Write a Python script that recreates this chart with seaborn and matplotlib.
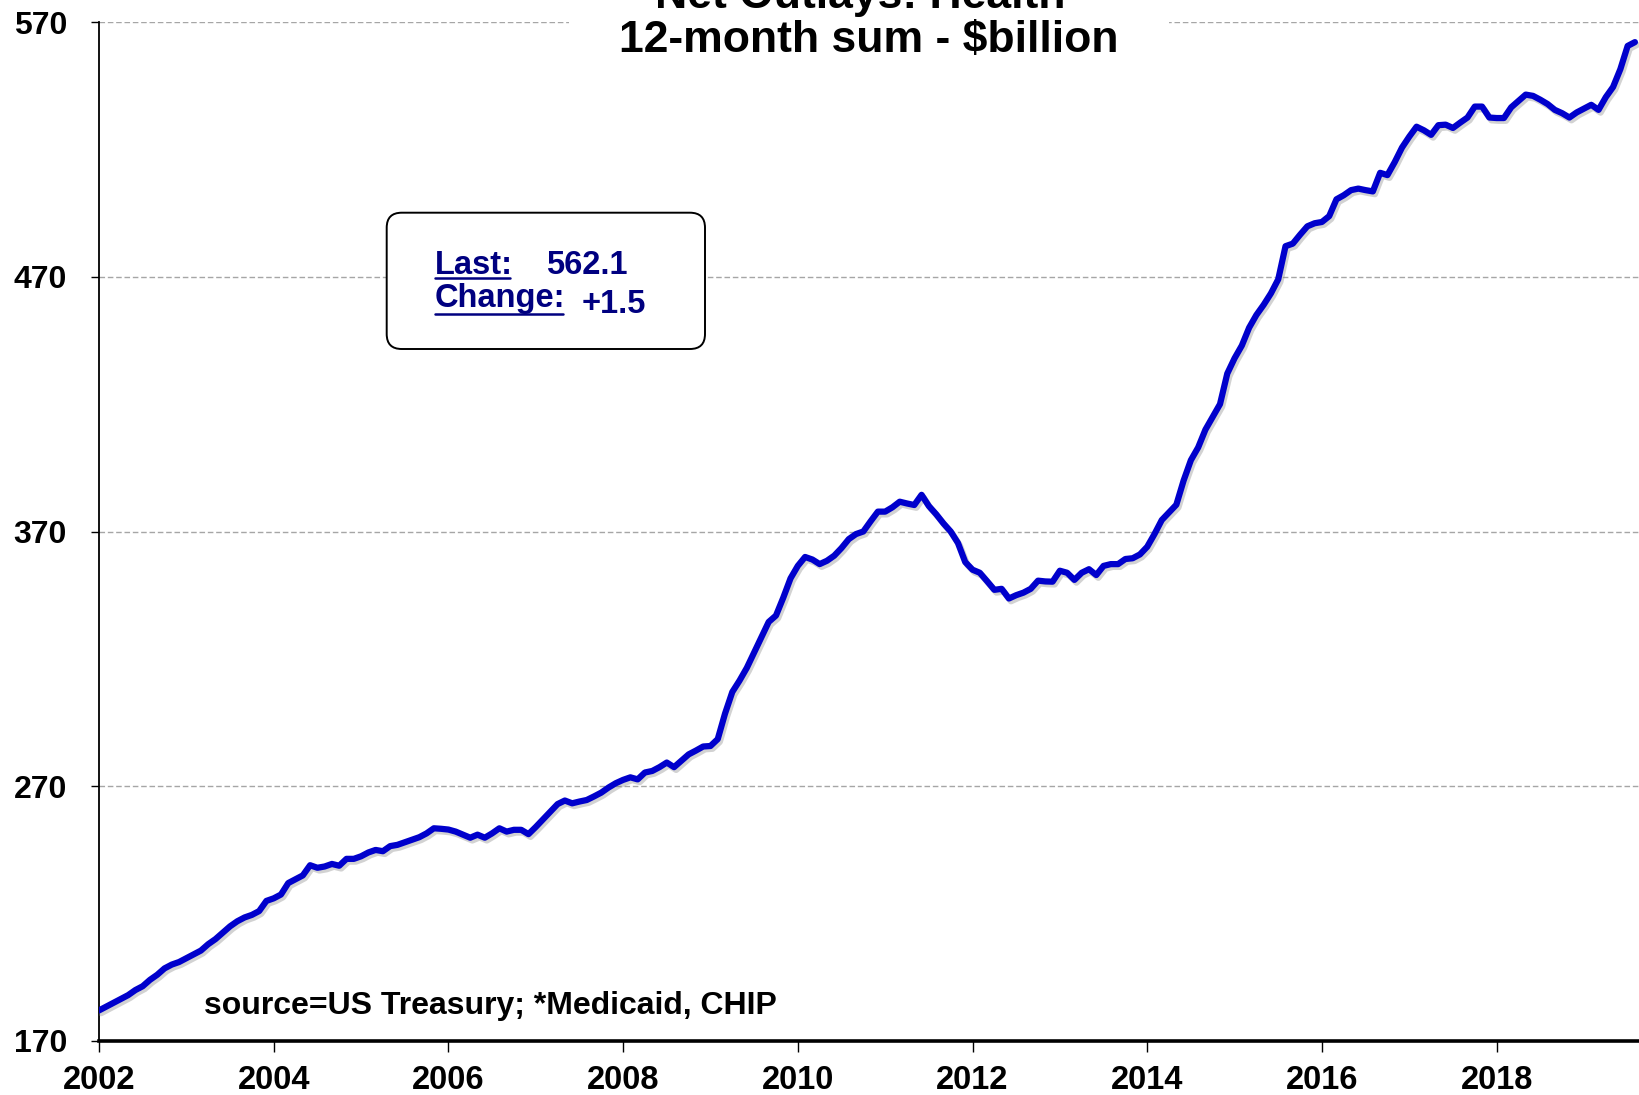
import numpy as np
import pandas as pd
import matplotlib
matplotlib.use("Agg")
import matplotlib.pyplot as plt
import seaborn as sns
import matplotlib.patheffects as pe
from matplotlib.patches import FancyBboxPatch
from matplotlib.lines import Line2D
from matplotlib.transforms import IdentityTransform

# ---------------- data (monthly, Jan 2002 - Aug 2019) ----------------
start_year = 2002
values_2002 = [182.0, 183.5, 185.0, 186.5, 188.0, 190.0, 191.5, 194.0, 196.0, 198.5, 200.0, 201.0]
values_2003 = [202.5, 204.0, 205.5, 208.0, 210.0, 212.5, 215.0, 217.0, 218.5, 219.5, 221.0, 225.0]
values_2004 = [226.0, 227.5, 232.0, 233.5, 235.0, 239.0, 238.0, 238.5, 239.5, 238.8, 241.5, 241.5]
values_2005 = [242.5, 244.0, 245.0, 244.5, 246.5, 247.0, 248.0, 249.0, 250.0, 251.5, 253.5, 253.3]
values_2006 = [253.0, 252.2, 251.0, 249.8, 251.0, 249.8, 251.5, 253.5, 252.2, 252.9, 252.9, 251.2]
values_2007 = [254.0, 257.0, 260.0, 263.0, 264.4, 263.3, 264.0, 264.6, 266.0, 267.5, 269.5, 271.2]
values_2008 = [272.5, 273.5, 272.7, 275.4, 276.0, 277.5, 279.3, 277.5, 280.0, 282.5, 284.0, 285.6]
values_2009 = [285.8, 288.5, 298.5, 307.0, 311.5, 316.5, 322.5, 328.5, 334.5, 337.0, 344.0, 351.6]
values_2010 = [356.5, 360.0, 359.0, 357.2, 358.5, 360.5, 363.5, 367.0, 369.0, 370.0, 374.0, 377.8]
values_2011 = [377.8, 379.5, 381.7, 381.0, 380.4, 384.4, 380.0, 376.8, 373.2, 370.0, 365.5, 358.0]
values_2012 = [355.0, 353.8, 350.5, 347.1, 347.5, 343.7, 345.0, 346.0, 347.5, 350.7, 350.4, 350.3]
values_2013 = [354.6, 353.8, 351.0, 353.8, 355.2, 352.9, 356.5, 357.2, 357.2, 359.2, 359.5, 361.0]
values_2014 = [364.0, 369.0, 374.5, 377.5, 380.5, 390.0, 398.0, 403.0, 410.0, 415.0, 420.0, 432.0]
values_2015 = [438.0, 443.0, 450.0, 455.0, 459.0, 463.5, 469.0, 482.0, 483.0, 486.5, 489.8, 491.0]
values_2016 = [491.5, 493.8, 500.4, 502.0, 504.0, 504.6, 504.0, 503.5, 510.8, 509.9, 515.0, 520.7]
values_2017 = [525.0, 528.9, 527.5, 525.7, 529.5, 529.7, 528.4, 530.5, 532.5, 536.8, 536.8, 532.5]
values_2018 = [532.3, 532.3, 536.5, 539.0, 541.5, 541.0, 539.5, 537.8, 535.5, 534.2, 532.5, 534.5]
values_2019 = [536.0, 537.5, 535.5, 540.5, 544.5, 551.5, 560.6, 562.1]

year_ticks = [2002, 2004, 2006, 2008, 2010, 2012, 2014, 2016, 2018]
y_ticks = [170, 270, 370, 470, 570]
title_line1 = "Net Outlays: Health*"
title_line2 = "12-month sum - $billion"
last_label = "Last:"
change_label = "Change:"
last_value = 562.1
change_value = 1.5
source_note = "source=US Treasury; *Medicaid, CHIP"

values = (values_2002 + values_2003 + values_2004 + values_2005 + values_2006 +
          values_2007 + values_2008 + values_2009 + values_2010 + values_2011 +
          values_2012 + values_2013 + values_2014 + values_2015 + values_2016 +
          values_2017 + values_2018 + values_2019)
dates = start_year + np.arange(len(values)) / 12.0
df = pd.DataFrame({"date": dates, "value": values})

# ---------------- style ----------------
sns.set_theme(style="white")
plt.rcParams["font.family"] = ["Liberation Sans", "DejaVu Sans"]
plt.rcParams["font.weight"] = "bold"

W, H = 1639, 1095
fig = plt.figure(figsize=(W / 100, H / 100), dpi=100)
ax_l, ax_r, ax_t, ax_b = 99, 1639, 22, 1041
ax = fig.add_axes([ax_l / W, 1 - ax_b / H, (ax_r - ax_l) / W, (ax_b - ax_t) / H])
ax.set_facecolor("white")

sns.lineplot(data=df, x="date", y="value", ax=ax, color="#0000CC", linewidth=4.5,
             path_effects=[pe.SimpleLineShadow(offset=(1.5, -2), shadow_color="gray", alpha=0.35),
                           pe.Normal()], zorder=5)

ax.set_xlim(2002, 2019.63)
ax.set_ylim(170, 570)
ax.set_xticks(year_ticks)
ax.set_xticklabels([str(y) for y in year_ticks])
ax.set_yticks(y_ticks)
ax.set_yticklabels([str(v) for v in y_ticks])
ax.set_xlabel("")
ax.set_ylabel("")

ax.yaxis.grid(True, linestyle=(0, (4, 2)), color="#A6A6A6", linewidth=1.0)
ax.xaxis.grid(False)

for s in ["top", "right"]:
    ax.spines[s].set_visible(False)
ax.spines["left"].set_color("black")
ax.spines["left"].set_linewidth(1.3)
ax.spines["bottom"].set_color("black")
ax.spines["bottom"].set_linewidth(2.6)
ax.spines["bottom"].set_zorder(6)

ax.tick_params(axis="x", which="major", direction="out", length=8, width=1.0, color="black",
               pad=9, labelsize=23.5, bottom=True)
ax.tick_params(axis="y", which="major", direction="out", length=6, width=1.0, color="black",
               pad=17, labelsize=23, left=True)
for lab in ax.get_xticklabels() + ax.get_yticklabels():
    lab.set_fontweight("bold")
    lab.set_color("black")

# ---------------- title (partially cut off at the top) ----------------
cx = (ax_l + ax_r) / 2 / W
fig.text(cx, 1 - 52 / H, title_line2, ha="center", va="baseline", fontsize=32,
         fontweight="bold", color="black", zorder=10,
         bbox=dict(facecolor="white", edgecolor="none", pad=36))
fig.text(cx, 1 - 8 / H, title_line1, ha="center", va="baseline", fontsize=32,
         fontweight="bold", color="black", zorder=11)

# ---------------- annotation box ----------------
aw, ah = ax_r - ax_l, ax_b - ax_t
bx0, bx1, by0, by1 = 386.7, 705.0, 212.7, 349.0
rx = 15 / aw
box = FancyBboxPatch(((bx0 - ax_l) / aw, 1 - (by1 - ax_t) / ah),
                     (bx1 - bx0) / aw, (by1 - by0) / ah,
                     boxstyle=f"round,pad=0,rounding_size={rx}",
                     mutation_aspect=aw / ah,
                     transform=ax.transAxes, facecolor="white", edgecolor="black",
                     linewidth=1.4, zorder=7)
ax.add_patch(box)

navy = "#000080"
def axfrac(px, py):
    return (px - ax_l) / aw, 1 - (py - ax_t) / ah

tx, ty = axfrac(435, 274)
t_last = ax.text(tx, ty, last_label, transform=ax.transAxes, ha="left", va="baseline",
                 fontsize=23.5, fontweight="bold", color=navy, zorder=8)
vx, vy = axfrac(546, 274)
ax.text(vx, vy, f"{last_value:.1f}", transform=ax.transAxes, ha="left", va="baseline",
        fontsize=23.5, fontweight="bold", color=navy, zorder=8)
cx2, cy2 = axfrac(435, 307)
t_change = ax.text(cx2, cy2, change_label, transform=ax.transAxes, ha="left", va="baseline",
                   fontsize=23.5, fontweight="bold", color=navy, zorder=8)
dx, dy = axfrac(582, 313)
ax.text(dx, dy, f"{change_value:+.1f}", transform=ax.transAxes, ha="left", va="baseline",
        fontsize=23.5, fontweight="bold", color=navy, zorder=8)

# source note
sx, sy = axfrac(204, 1014)
ax.text(sx, sy, source_note, transform=ax.transAxes, ha="left", va="baseline",
        fontsize=23, fontweight="bold", color="black", zorder=8)

# underlines for the labels
fig.canvas.draw()
renderer = fig.canvas.get_renderer()
for t, (px, py), off in [(t_last, (tx, ty), 4), (t_change, (cx2, cy2), 7)]:
    bb = t.get_window_extent(renderer)
    base = ax.transAxes.transform((px, py))[1]
    ln = Line2D([bb.x0, bb.x1 - 3], [base - off, base - off], transform=IdentityTransform(),
                color=navy, linewidth=1.8, zorder=9)
    fig.add_artist(ln)

fig.savefig("out.png", dpi=100, facecolor="white")
